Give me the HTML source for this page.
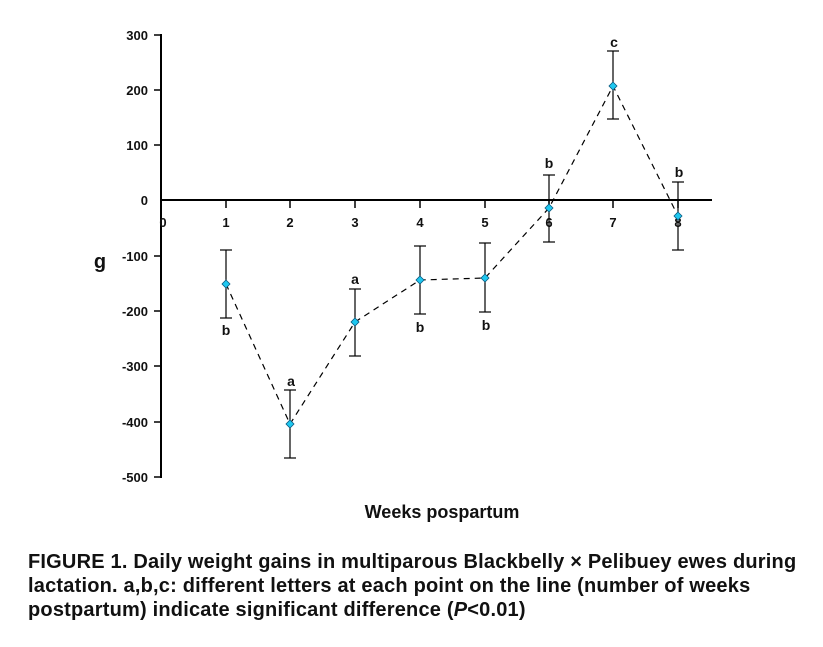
<!DOCTYPE html>
<html><head><meta charset="utf-8"><style>
body{margin:0;background:#fff;width:823px;height:647px;overflow:hidden}
svg text{font-family:"Liberation Sans","Noto Sans CJK JP",sans-serif;font-weight:bold;fill:#111}
.cap{position:absolute;left:28px;top:550px;width:790px;font-family:"Liberation Sans",sans-serif;font-weight:bold;font-size:20px;letter-spacing:0.2px;line-height:24px;color:#111}
</style></head><body>
<svg width="823" height="647" style="position:absolute;left:0;top:0">
<g stroke="#000" stroke-width="2">
<line x1="161" y1="34" x2="161" y2="478"/>
<line x1="161" y1="200" x2="712" y2="200"/>
</g>
<g stroke="#000" stroke-width="1.5">
<line x1="154" y1="35" x2="161" y2="35"/><line x1="154" y1="90" x2="161" y2="90"/>
<line x1="154" y1="145" x2="161" y2="145"/><line x1="154" y1="256" x2="161" y2="256"/>
<line x1="154" y1="311" x2="161" y2="311"/><line x1="154" y1="366" x2="161" y2="366"/>
<line x1="154" y1="422" x2="161" y2="422"/><line x1="154" y1="477" x2="161" y2="477"/>
<line x1="226" y1="200" x2="226" y2="208"/><line x1="290" y1="200" x2="290" y2="208"/>
<line x1="355" y1="200" x2="355" y2="208"/><line x1="420" y1="200" x2="420" y2="208"/>
<line x1="485" y1="200" x2="485" y2="208"/><line x1="549" y1="200" x2="549" y2="208"/>
<line x1="613" y1="200" x2="613" y2="208"/><line x1="678" y1="200" x2="678" y2="208"/>
</g>
<g font-size="13" text-anchor="end">
<text x="148" y="40">300</text><text x="148" y="95">200</text><text x="148" y="150">100</text>
<text x="148" y="205">0</text><text x="148" y="261">-100</text><text x="148" y="316">-200</text>
<text x="148" y="371">-300</text><text x="148" y="427">-400</text><text x="148" y="482">-500</text>
</g>
<g font-size="13" text-anchor="middle">
<text x="163" y="227">0</text><text x="226" y="227">1</text><text x="290" y="227">2</text>
<text x="355" y="227">3</text><text x="420" y="227">4</text><text x="485" y="227">5</text>
<text x="549" y="227">6</text><text x="613" y="227">7</text><text x="678" y="227">8</text>
</g>
<text x="100" y="268" font-size="20" text-anchor="middle">g</text>
<text x="442" y="518" font-size="18" text-anchor="middle">Weeks pospartum</text>
<polyline fill="none" stroke="#000" stroke-width="1.2" stroke-dasharray="6,5" points="226,284 290,424 355,322 420,280 485,278 549,208 613,86 678,216"/>
<g stroke="#000" stroke-width="1.2">
<line x1="226" y1="250" x2="226" y2="318"/><line x1="220" y1="250" x2="232" y2="250"/><line x1="220" y1="318" x2="232" y2="318"/>
<line x1="290" y1="390" x2="290" y2="458"/><line x1="284" y1="390" x2="296" y2="390"/><line x1="284" y1="458" x2="296" y2="458"/>
<line x1="355" y1="289" x2="355" y2="356"/><line x1="349" y1="289" x2="361" y2="289"/><line x1="349" y1="356" x2="361" y2="356"/>
<line x1="420" y1="246" x2="420" y2="314"/><line x1="414" y1="246" x2="426" y2="246"/><line x1="414" y1="314" x2="426" y2="314"/>
<line x1="485" y1="243" x2="485" y2="312"/><line x1="479" y1="243" x2="491" y2="243"/><line x1="479" y1="312" x2="491" y2="312"/>
<line x1="549" y1="175" x2="549" y2="242"/><line x1="543" y1="175" x2="555" y2="175"/><line x1="543" y1="242" x2="555" y2="242"/>
<line x1="613" y1="51" x2="613" y2="119"/><line x1="607" y1="51" x2="619" y2="51"/><line x1="607" y1="119" x2="619" y2="119"/>
<line x1="678" y1="182" x2="678" y2="250"/><line x1="672" y1="182" x2="684" y2="182"/><line x1="672" y1="250" x2="684" y2="250"/>
</g>
<g fill="#1ec8f0" stroke="#0a5a80" stroke-width="0.8">
<path d="M226 280 L230 284 L226 288 L222 284Z"/><path d="M290 420 L294 424 L290 428 L286 424Z"/>
<path d="M355 318 L359 322 L355 326 L351 322Z"/><path d="M420 276 L424 280 L420 284 L416 280Z"/>
<path d="M485 274 L489 278 L485 282 L481 278Z"/><path d="M549 204 L553 208 L549 212 L545 208Z"/>
<path d="M613 82 L617 86 L613 90 L609 86Z"/><path d="M678 212 L682 216 L678 220 L674 216Z"/>
</g>
<g font-size="14" text-anchor="middle">
<text x="226" y="335">b</text><text x="291" y="386">a</text><text x="355" y="284">a</text>
<text x="420" y="332">b</text><text x="486" y="330">b</text><text x="549" y="168">b</text>
<text x="614" y="47">c</text><text x="679" y="177">b</text>
</g>
</svg>
<div class="cap">FIGURE 1. Daily weight gains in multiparous Blackbelly × Pelibuey ewes during lactation. a,b,c: different letters at each point on the line (number of weeks postpartum) indicate significant difference (<i>P</i>&lt;0.01)</div>
</body></html>
